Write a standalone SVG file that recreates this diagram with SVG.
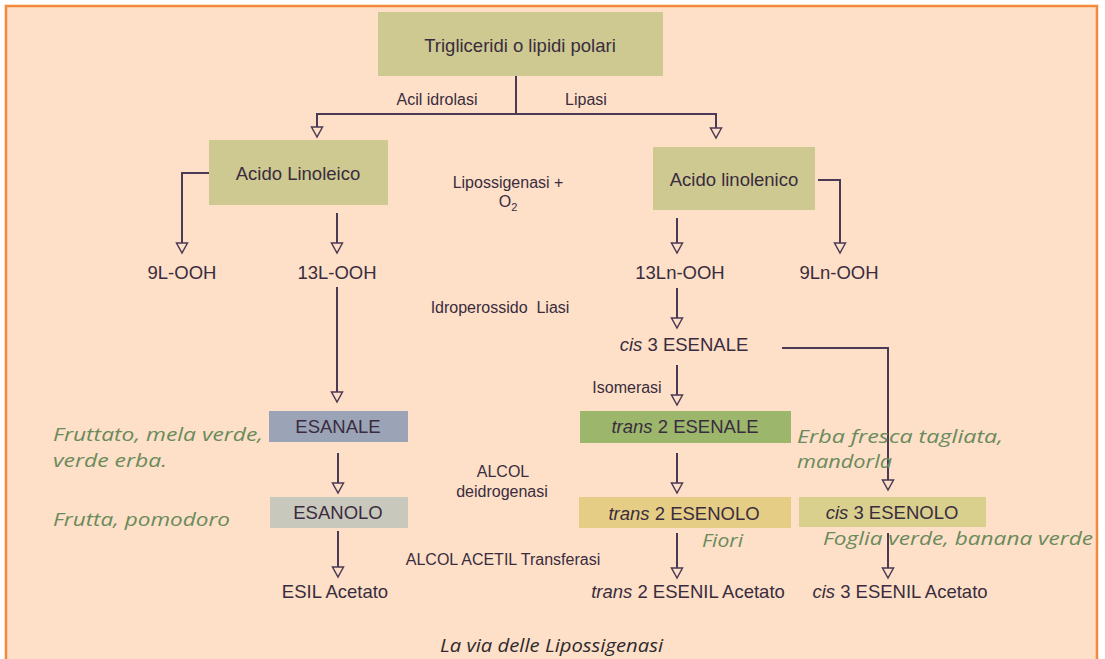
<svg xmlns="http://www.w3.org/2000/svg" width="1105" height="659" viewBox="0 0 1105 659">
<style>
.n{font-family:"Liberation Sans",Arial,sans-serif;font-size:18.5px;fill:#3a2c3e;text-anchor:middle}
.l{font-family:"Liberation Sans",Arial,sans-serif;font-size:16px;fill:#3a2c3e;text-anchor:middle}
.g{font-family:"Open Sans","Noto Sans",sans-serif;font-style:italic;font-size:19px;fill:#6a8a5c}
.cap{font-family:"Open Sans","Noto Sans",sans-serif;font-style:italic;font-size:18px;fill:#2e2a2e}
.c path{fill:none;stroke:#4b3a55;stroke-width:2;marker-end:url(#ah)}
.c path.p{marker-end:none}
</style>
<defs>
<marker id="ah" markerUnits="userSpaceOnUse" markerWidth="14" markerHeight="14" refX="11" refY="6.5" orient="auto" viewBox="0 0 14 14">
<path d="M1,1 L11,6.5 L1,12 Z" fill="#fde0c7" stroke="#4b3a55" stroke-width="1.5"/>
</marker>
</defs>
<rect x="0" y="0" width="1105" height="659" fill="#ffffff"/>
<rect x="6" y="6" width="1091" height="700" fill="#fde0c7" stroke="#f58a3c" stroke-width="2.5"/>

<g id="connectors" class="c">
<path class="p" d="M516,76 V114"/>
<path d="M516,114 H317 V137"/>
<path d="M516,114 H716 V138"/>
<path d="M209,173 H182 V253"/>
<path d="M337,213 V253"/>
<path d="M337,287 V402"/>
<path d="M338,453 V493"/>
<path d="M338,531 V577"/>
<path d="M818,180 H840 V253"/>
<path d="M677,218 V253"/>
<path d="M677,288 V328"/>
<path d="M677,365 V405"/>
<path d="M782,348 H888 V490"/>
<path d="M888,533 V578"/>
<path d="M677,453 V493"/>
<path d="M677,533 V578"/>
</g>

<g id="trigliceridi"><rect x="378" y="12" width="285" height="64" fill="#cdc991"/><text class="n" x="520" y="52">Trigliceridi o lipidi polari</text></g>
<g id="acido-linoleico"><rect x="209" y="140" width="179" height="65" fill="#cdc991"/><text class="n" x="298" y="180">Acido Linoleico</text></g>
<g id="acido-linolenico"><rect x="653" y="147" width="162" height="63" fill="#cdc991"/><text class="n" x="734" y="186">Acido linolenico</text></g>
<g id="l9"><text class="n" x="182" y="279">9L-OOH</text></g>
<g id="l13"><text class="n" x="337" y="279">13L-OOH</text></g>
<g id="ln13"><text class="n" x="680" y="279">13Ln-OOH</text></g>
<g id="ln9"><text class="n" x="839" y="279">9Ln-OOH</text></g>
<g id="cis3esenale"><text class="n" x="684" y="351"><tspan font-style="italic">cis</tspan> 3 ESENALE</text></g>
<g id="esanale"><rect x="269" y="411" width="139" height="31" fill="#9ba4b6"/><text class="n" x="338" y="433">ESANALE</text></g>
<g id="trans2esenale"><rect x="580" y="411" width="211" height="32" fill="#9cb76c"/><text class="n" x="685" y="433"><tspan font-style="italic">trans</tspan> 2 ESENALE</text></g>
<g id="esanolo"><rect x="270" y="497" width="138" height="31" fill="#c9c8bd"/><text class="n" x="338" y="519">ESANOLO</text></g>
<g id="trans2esenolo"><rect x="579" y="497" width="212" height="31" fill="#e6cd85"/><text class="n" x="684" y="520"><tspan font-style="italic">trans</tspan> 2 ESENOLO</text></g>
<g id="cis3esenolo"><rect x="799" y="497" width="187" height="30" fill="#d9d08e"/><text class="n" x="892" y="519"><tspan font-style="italic">cis</tspan> 3 ESENOLO</text></g>
<g id="esil"><text class="n" x="335" y="598">ESIL Acetato</text></g>
<g id="trans2esenil"><text class="n" x="688" y="598"><tspan font-style="italic">trans</tspan> 2 ESENIL Acetato</text></g>
<g id="cis3esenil"><text class="n" x="900" y="598"><tspan font-style="italic">cis</tspan> 3 ESENIL Acetato</text></g>

<g id="labels">
<text class="l" x="437" y="105">Acil idrolasi</text>
<text class="l" x="586" y="105">Lipasi</text>
<text class="l" x="508" y="188">Lipossigenasi +</text>
<text class="l" x="508" y="207">O<tspan font-size="11" dy="4">2</tspan></text>
<text class="l" x="500" y="313" xml:space="preserve">Idroperossido  Liasi</text>
<text class="l" x="627" y="393">Isomerasi</text>
<text class="l" x="503" y="477">ALCOL</text>
<text class="l" x="502" y="497">deidrogenasi</text>
<text class="l" x="503" y="565">ALCOL ACETIL Transferasi</text>
</g>

<g id="notes">
<text class="g" x="53" y="441" textLength="210" lengthAdjust="spacingAndGlyphs">Fruttato, mela verde,</text>
<text class="g" x="53" y="467" textLength="114" lengthAdjust="spacingAndGlyphs">verde erba.</text>
<text class="g" x="53" y="526" textLength="177" lengthAdjust="spacingAndGlyphs">Frutta, pomodoro</text>
<text class="g" x="797" y="443" textLength="206" lengthAdjust="spacingAndGlyphs">Erba fresca tagliata,</text>
<text class="g" x="797" y="468" textLength="95" lengthAdjust="spacingAndGlyphs">mandorla</text>
<text class="g" x="702" y="547" textLength="41" lengthAdjust="spacingAndGlyphs">Fiori</text>
<text class="g" x="823" y="545" textLength="270" lengthAdjust="spacingAndGlyphs">Foglia verde, banana verde</text>
<text class="cap" x="440" y="652" textLength="223" lengthAdjust="spacingAndGlyphs">La via delle Lipossigenasi</text>
</g>
</svg>
